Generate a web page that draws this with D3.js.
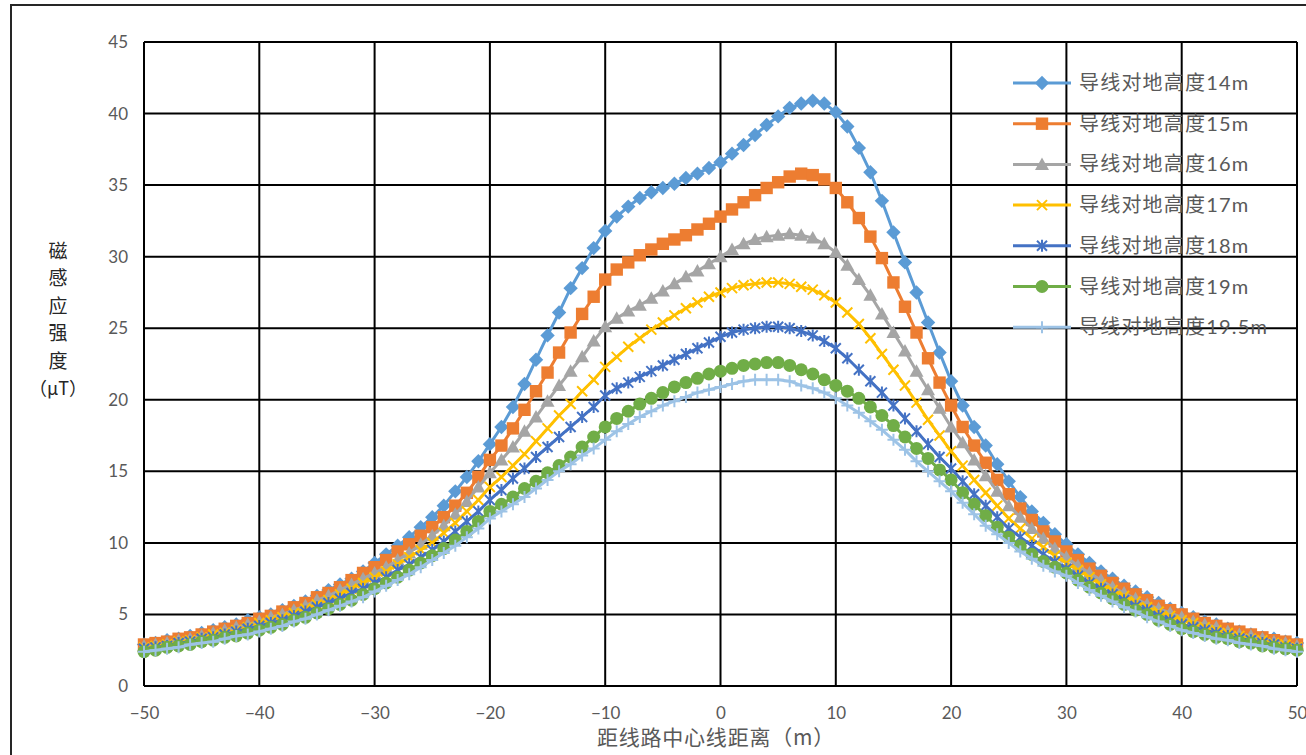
<!DOCTYPE html>
<html>
<head>
<meta charset="utf-8">
<script src="https://cdn.jsdelivr.net/npm/d3@7"></script>
<style>
  html, body { margin: 0; padding: 0; background: #ffffff; }
  svg { display: block; }
</style>
</head>
<body>
<svg id="chart" width="1306" height="755"></svg>
<script>
// ---------- data ----------
const distances = [-50,-49,-48,-47,-46,-45,-44,-43,-42,-41,-40,-39,-38,-37,-36,-35,-34,-33,-32,-31,
  -30,-29,-28,-27,-26,-25,-24,-23,-22,-21,-20,-19,-18,-17,-16,-15,-14,-13,-12,-11,
  -10,-9,-8,-7,-6,-5,-4,-3,-2,-1,0,1,2,3,4,5,6,7,8,9,10,11,12,13,14,15,16,17,18,19,
  20,21,22,23,24,25,26,27,28,29,30,31,32,33,34,35,36,37,38,39,40,41,42,43,44,45,46,47,48,49,50];

const seriesNames = ["导线对地高度14m","导线对地高度15m","导线对地高度16m","导线对地高度17m","导线对地高度18m","导线对地高度19m","导线对地高度19.5m"];

const h14 = [2.9,3.0,3.2,3.3,3.5,3.7,3.9,4.1,4.3,4.6,
  4.8,5.0,5.3,5.6,5.9,6.3,6.7,7.1,7.5,8.0,
  8.6,9.2,9.8,10.4,11.1,11.8,12.6,13.6,14.6,15.7,
  16.9,18.1,19.5,21.1,22.8,24.5,26.1,27.8,29.2,30.6,
  31.8,32.8,33.5,34.1,34.5,34.8,35.1,35.5,35.8,36.2,
  36.6,37.2,37.8,38.5,39.2,39.8,40.4,40.7,40.9,40.7,
  40.1,39.1,37.6,35.9,33.9,31.7,29.6,27.5,25.4,23.3,
  21.3,19.6,18.1,16.8,15.5,14.3,13.2,12.2,11.4,10.6,
  9.9,9.2,8.6,8.0,7.5,7.0,6.6,6.2,5.8,5.4,
  5.1,4.8,4.5,4.3,4.0,3.8,3.6,3.4,3.3,3.1,3.0];

const h15 = [2.9,3.0,3.1,3.3,3.4,3.6,3.8,4.0,4.2,4.4,
  4.7,4.9,5.2,5.5,5.8,6.2,6.5,6.9,7.4,7.9,
  8.3,8.8,9.4,9.9,10.5,11.1,11.8,12.6,13.5,14.6,
  15.8,16.8,18.0,19.3,20.6,21.9,23.3,24.7,26.0,27.2,
  28.4,29.1,29.6,30.1,30.5,30.9,31.2,31.5,31.9,32.3,
  32.8,33.3,33.8,34.3,34.8,35.2,35.6,35.8,35.7,35.4,
  34.8,33.8,32.7,31.4,29.9,28.2,26.5,24.7,22.9,21.2,
  19.6,18.1,16.8,15.6,14.4,13.4,12.4,11.6,10.8,10.1,
  9.4,8.8,8.2,7.7,7.2,6.8,6.4,6.0,5.6,5.3,
  5.0,4.7,4.4,4.2,4.0,3.8,3.6,3.4,3.2,3.1,2.9];

const h16 = [2.8,2.9,3.0,3.2,3.3,3.5,3.7,3.9,4.1,4.3,
  4.5,4.8,5.0,5.3,5.6,6.0,6.3,6.7,7.1,7.5,
  7.9,8.3,8.8,9.3,9.9,10.5,11.2,12.0,12.9,13.9,
  14.9,15.8,16.7,17.8,18.8,19.9,21.0,22.0,23.0,24.1,
  25.1,25.7,26.2,26.6,27.1,27.6,28.1,28.6,29.0,29.5,
  30.0,30.5,30.9,31.2,31.4,31.5,31.6,31.5,31.3,30.9,
  30.3,29.4,28.4,27.3,26.0,24.7,23.4,22.0,20.7,19.4,
  18.1,17.0,15.8,14.7,13.6,12.6,11.8,11.0,10.3,9.6,
  9.0,8.4,7.9,7.4,6.9,6.5,6.1,5.7,5.4,5.1,
  4.8,4.5,4.3,4.1,3.8,3.6,3.5,3.3,3.1,3.0,2.8];

const h17 = [2.7,2.8,2.9,3.1,3.2,3.4,3.6,3.7,3.9,4.1,
  4.4,4.6,4.8,5.1,5.4,5.7,6.0,6.4,6.8,7.2,
  7.6,8.0,8.5,9.0,9.5,10.0,10.7,11.4,12.2,13.0,
  13.9,14.6,15.4,16.2,17.1,18.0,18.9,19.7,20.6,21.4,
  22.3,23.0,23.7,24.3,24.9,25.4,25.9,26.4,26.8,27.2,
  27.5,27.8,28.0,28.1,28.2,28.2,28.1,27.9,27.7,27.3,
  26.8,26.1,25.3,24.3,23.2,22.1,21.0,19.8,18.6,17.5,
  16.4,15.4,14.4,13.5,12.6,11.7,11.0,10.3,9.7,9.1,
  8.6,8.1,7.6,7.1,6.7,6.3,5.9,5.5,5.2,4.9,
  4.6,4.4,4.1,3.9,3.7,3.5,3.3,3.2,3.0,2.9,2.7];

const h18 = [2.6,2.7,2.8,3.0,3.1,3.3,3.4,3.6,3.8,4.0,
  4.2,4.4,4.6,4.9,5.2,5.5,5.8,6.1,6.5,6.8,
  7.2,7.6,8.1,8.5,9.0,9.5,10.1,10.8,11.5,12.2,
  13.0,13.7,14.5,15.2,16.0,16.7,17.4,18.1,18.8,19.5,
  20.3,20.8,21.2,21.6,22.0,22.4,22.8,23.2,23.6,24.0,
  24.4,24.7,24.9,25.0,25.1,25.1,25.0,24.8,24.5,24.1,
  23.6,22.9,22.1,21.3,20.5,19.6,18.7,17.8,16.9,16.0,
  15.2,14.3,13.4,12.6,11.8,11.0,10.4,9.8,9.2,8.7,
  8.2,7.7,7.2,6.8,6.4,6.0,5.6,5.3,4.9,4.6,
  4.3,4.1,3.9,3.7,3.5,3.3,3.2,3.0,2.9,2.7,2.6];

const h19 = [2.4,2.5,2.7,2.8,2.9,3.1,3.2,3.4,3.5,3.7,
  3.9,4.1,4.3,4.6,4.8,5.1,5.4,5.7,6.0,6.4,
  6.8,7.2,7.6,8.1,8.6,9.1,9.6,10.2,10.8,11.5,
  12.2,12.7,13.2,13.8,14.3,14.9,15.4,16.0,16.7,17.4,
  18.1,18.7,19.2,19.7,20.1,20.5,20.9,21.2,21.5,21.8,
  22.0,22.2,22.4,22.5,22.6,22.6,22.4,22.1,21.8,21.4,
  21.0,20.6,20.1,19.5,18.9,18.2,17.4,16.6,15.9,15.1,
  14.4,13.5,12.7,11.9,11.1,10.4,9.8,9.2,8.7,8.3,
  7.9,7.4,6.9,6.5,6.1,5.7,5.3,5.0,4.6,4.3,
  4.0,3.8,3.6,3.4,3.3,3.1,3.0,2.8,2.7,2.6,2.5];

const h195 = [2.4,2.5,2.6,2.7,2.9,3.0,3.1,3.3,3.5,3.6,
  3.8,4.0,4.2,4.5,4.7,5.0,5.3,5.6,5.9,6.2,
  6.6,7.0,7.4,7.8,8.3,8.8,9.3,9.8,10.4,11.0,
  11.7,12.2,12.7,13.2,13.8,14.4,15.0,15.5,16.1,16.6,
  17.2,17.8,18.3,18.8,19.2,19.6,19.9,20.2,20.5,20.7,
  20.9,21.1,21.3,21.4,21.4,21.4,21.3,21.0,20.8,20.5,
  20.1,19.6,19.1,18.5,17.9,17.2,16.5,15.7,15.0,14.3,
  13.6,12.8,12.0,11.2,10.6,10.0,9.4,8.9,8.4,8.0,
  7.7,7.2,6.7,6.3,5.9,5.5,5.2,4.8,4.5,4.2,
  3.9,3.7,3.5,3.3,3.2,3.0,2.9,2.8,2.6,2.5,2.4];

const xTicks = [-50,-40,-30,-20,-10,0,10,20,30,40,50];
const yTicks = [0,5,10,15,20,25,30,35,40,45];
const yTitleChars = ["磁","感","应","强","度","（μT）"];
const xTitle = "距线路中心线距离（m）";

// ---------- styling ----------
const seriesValues = [h14,h15,h16,h17,h18,h19,h195];
const colors = ["#5B9BD5","#ED7D31","#A5A5A5","#FFC000","#4472C4","#70AD47","#9DC3E6"];
const markerTypes = ["diamond","square","triangle","x","star","circle","plus"];

const W = 1306, H = 755;
const plot = {left: 144, right: 1297, top: 42, bottom: 686};
const latin = "Lato, Carlito, 'Liberation Sans', sans-serif";
const cjk = "'Noto Sans CJK SC', 'Noto Sans', sans-serif";
const mixed = "Lato, 'Noto Sans CJK SC', sans-serif";
const textGray = "#595959";

const svg = d3.select("#chart");
svg.append("rect").attr("width", W).attr("height", H).attr("fill", "#fff");
// outer frame
svg.append("rect").attr("x", 11).attr("y", 5).attr("width", W + 10).attr("height", H + 10)
  .attr("fill", "none").attr("stroke", "#262626").attr("stroke-width", 2);

const x = d3.scaleLinear().domain([-50, 50]).range([plot.left, plot.right]);
const y = d3.scaleLinear().domain([0, 45]).range([plot.bottom, plot.top]);

// gridlines
const grid = svg.append("g");
grid.selectAll("line.v").data(xTicks).join("line")
  .attr("x1", d => x(d)).attr("x2", d => x(d))
  .attr("y1", plot.top).attr("y2", plot.bottom)
  .attr("stroke", "#000").attr("stroke-width", 2);
grid.selectAll("line.h").data(yTicks).join("line")
  .attr("y1", d => y(d)).attr("y2", d => y(d))
  .attr("x1", plot.left).attr("x2", plot.right)
  .attr("stroke", "#000").attr("stroke-width", 2);

// axes (labels)
const yAxis = svg.append("g").attr("transform", `translate(${plot.left},0)`)
  .call(d3.axisLeft(y).tickValues(yTicks).tickSize(0).tickPadding(16).tickFormat(d3.format("d")));
const xAxis = svg.append("g").attr("transform", `translate(0,${plot.bottom})`)
  .call(d3.axisBottom(x).tickValues(xTicks).tickSize(0).tickPadding(21).tickFormat(d3.format("d")));
[yAxis, xAxis].forEach(a => {
  a.select(".domain").remove();
  a.selectAll("text").attr("fill", textGray).attr("font-family", latin).attr("font-size", 17);
});

// y title (stacked characters)
const yt = svg.append("g").attr("font-family", cjk).attr("fill", "#262626")
  .attr("text-anchor", "middle");
yt.selectAll("text").data(yTitleChars).join("text")
  .attr("x", 58).attr("y", (d, i) => 258 + i * 27.4)
  .attr("font-size", (d, i) => i === 5 ? 18 : 19)
  .text(d => d);

// x title
svg.append("text").attr("x", 716).attr("y", 745).attr("text-anchor", "middle")
  .attr("font-family", cjk).attr("font-size", 21).attr("letter-spacing", 0.8)
  .attr("fill", textGray).text(xTitle);

// marker shapes
function markerPath(type) {
  switch (type) {
    case "diamond": return "M0,-7.2L7.2,0L0,7.2L-7.2,0Z";
    case "square": return "M-6.2,-6.2H6.2V6.2H-6.2Z";
    case "triangle": return "M0,-7L7,5.5L-7,5.5Z";
    case "x": return "M-5,-5L5,5M-5,5L5,-5";
    case "star": return "M-5,-5L5,5M-5,5L5,-5M0,-6V6";
    case "circle": return d3.arc()({innerRadius: 0, outerRadius: 6.5, startAngle: 0, endAngle: 2 * Math.PI});
    case "plus": return "M0,-6V6M-6,0H6";
  }
}
const strokeOnly = t => t === "x" || t === "star" || t === "plus";
function drawMarker(sel, type, color) {
  sel.append("path").attr("d", markerPath(type))
    .attr("fill", strokeOnly(type) ? "none" : color)
    .attr("stroke", strokeOnly(type) ? color : "none")
    .attr("stroke-width", strokeOnly(type) ? 2 : 0);
}

// series
const line = d3.line().x(d => x(d[0])).y(d => y(d[1]));
seriesValues.forEach((vals, i) => {
  const pts = distances.map((d, k) => [d, vals[k]]);
  const g = svg.append("g");
  g.append("path").attr("d", line(pts)).attr("fill", "none")
    .attr("stroke", colors[i]).attr("stroke-width", 3).attr("stroke-linejoin", "round");
  g.selectAll("g.m").data(pts).join("g")
    .attr("transform", d => `translate(${x(d[0])},${y(d[1])})`)
    .each(function () { drawMarker(d3.select(this), markerTypes[i], colors[i]); });
});

// legend
const legend = svg.append("g");
seriesNames.forEach((name, i) => {
  const cy = 83 + i * 40.7;
  const g = legend.append("g").attr("transform", `translate(0,${cy})`);
  g.append("line").attr("x1", 1013).attr("x2", 1071).attr("y1", 0).attr("y2", 0)
    .attr("stroke", colors[i]).attr("stroke-width", 3);
  const m = g.append("g").attr("transform", "translate(1042,0)");
  drawMarker(m, markerTypes[i], colors[i]);
  g.append("text").attr("x", 1079).attr("y", 7).attr("font-family", mixed)
    .attr("font-size", 20).attr("letter-spacing", 1.2).attr("fill", textGray).text(name);
});
</script>
</body>
</html>
